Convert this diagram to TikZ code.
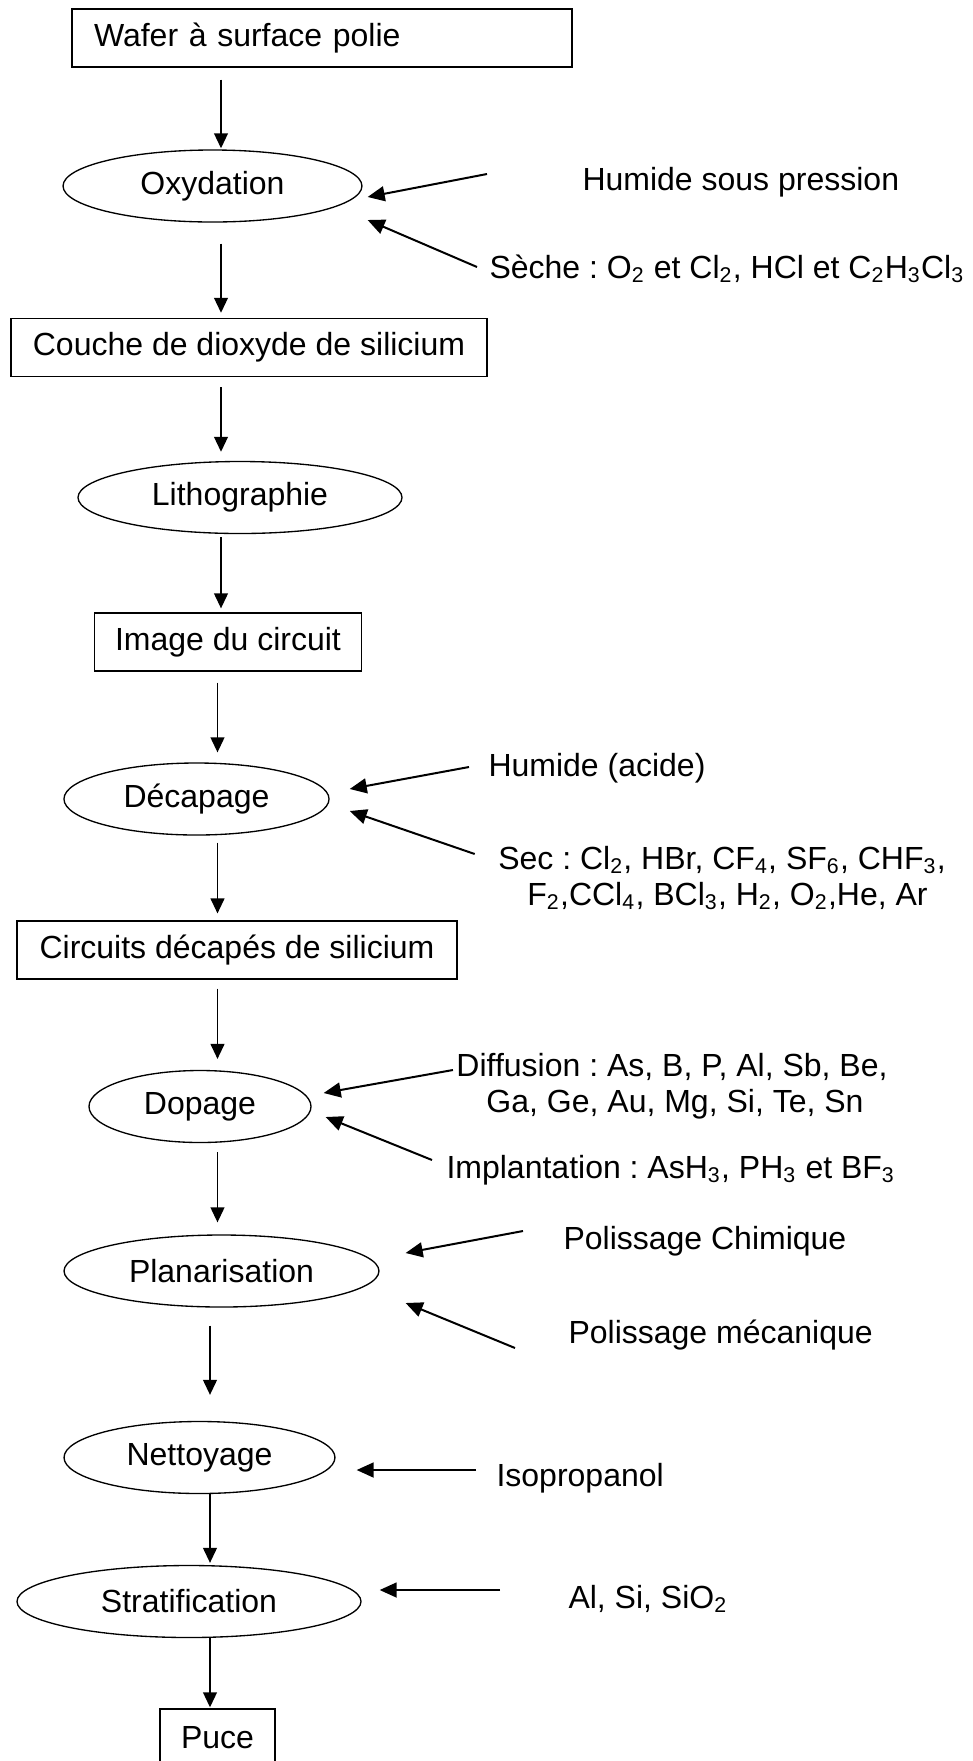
\documentclass[tikz,border=0pt]{standalone}
\usepackage{fontspec}
\setmainfont{Liberation Sans}
\frenchspacing
\usetikzlibrary{arrows.meta,shapes.geometric,positioning}

\begin{document}
\begin{tikzpicture}
[
x=0.375pt, y=-0.375pt,
every node/.style={font=\fontsize{12pt}{14pt}\selectfont, inner sep=0pt},
procbox/.style={draw, rectangle, line width=0.5pt, minimum height=21.75pt},
stage/.style={draw, ellipse, line width=0.5pt, minimum height=27pt},
note/.style={anchor=base west},
flow/.style={-{Triangle[length=5.6pt,width=5.2pt]}, line width=0.5pt},
feed/.style={-{Triangle[length=6.4pt,width=5.6pt]}, line width=0.75pt},
]
\useasboundingbox (0,0) rectangle (973,1761);

% Nodes
\node[procbox, minimum width=187.5pt, text width=171pt, align=left] (wafer) at (322,38) {Wafer à surface polie};
\node[stage, minimum width=112.1pt] (oxy) at (212.5,186) {Oxydation};
\node[procbox, minimum width=178.5pt] (couche) at (249,347.5) {Couche de dioxyde de silicium};
\node[stage, minimum width=121.5pt] (litho) at (240,497.5) {Lithographie};
\node[procbox, minimum width=100.1pt] (image) at (228,642) {Image du circuit};
\node[stage, minimum width=99.4pt] (decap) at (196.5,799) {Décapage};
\node[procbox, minimum width=165pt] (circ) at (237,950) {Circuits décapés de silicium};
\node[stage, minimum width=83.25pt] (dop) at (200,1106.5) {Dopage};
\node[stage, minimum width=118.1pt] (plan) at (221.5,1271) {Planarisation};
\node[stage, minimum width=101.6pt] (nett) at (199.5,1457.5) {Nettoyage};
\node[stage, minimum width=129pt] (strat) at (189,1601.5) {Stratification};
\node[procbox, minimum width=43.1pt] (puce) at (217.5,1738) {Puce};

% Inputs
\node[note] (hum1) at (582,190) {Humide sous pression};
\node[note] (seche) at (489,278) {Sèche : O\textsubscript{2} et Cl\textsubscript{2}, HCl et C\textsubscript{2}H\textsubscript{3}Cl\textsubscript{3}};
\node[note] (hum2) at (488,776) {Humide (acide)};
\node[anchor=base] (sec1) at (722,869) {Sec : Cl\textsubscript{2}, HBr, CF\textsubscript{4}, SF\textsubscript{6}, CHF\textsubscript{3},};
\node[anchor=base] (sec2) at (727.5,905) {F\textsubscript{2},CCl\textsubscript{4}, BCl\textsubscript{3}, H\textsubscript{2}, O\textsubscript{2},He, Ar};
\node[anchor=base] (diff1) at (672,1076) {Diffusion : As, B, P, Al, Sb, Be,};
\node[anchor=base] (diff2) at (675,1112) {Ga, Ge, Au, Mg, Si, Te, Sn};
\node[note] (impl) at (446,1178) {Implantation : AsH\textsubscript{3}, PH\textsubscript{3} et BF\textsubscript{3}};
\node[note] (polchim) at (563,1249.5) {Polissage Chimique};
\node[note] (polmec) at (568,1343.5) {Polissage mécanique};
\node[note] (iso) at (496,1486) {Isopropanol};
\node[note] (alsi) at (568,1608) {Al, Si, SiO\textsubscript{2}};

% Edges
\coordinate (colA) at (221,0);
\coordinate (colB) at (217.5,0);
\coordinate (colC) at (210,0);
\draw[flow, shorten <=4.5pt, shorten >=0.4pt] (wafer.south -| colA) -- (oxy.north -| colA);
\draw[flow, shorten <=7.9pt, shorten >=1.9pt] (oxy.south -| colA) -- (couche.north -| colA);
\draw[flow, shorten <=3.75pt, shorten >=3.4pt] (couche.south -| colA) -- (litho.north -| colA);
\draw[flow, shorten <=1.1pt, shorten >=1.5pt] (litho.south -| colA) -- (image.north -| colA);
\draw[flow, shorten <=4.1pt, shorten >=3.75pt] (image.south -| colB) -- (decap.north -| colB);
\draw[flow, shorten <=2.6pt, shorten >=2.6pt] (decap.south -| colB) -- (circ.north -| colB);
\draw[flow, shorten <=3.4pt, shorten >=4.1pt] (circ.south -| colB) -- (dop.north -| colB);
\draw[flow, shorten <=3.4pt, shorten >=4.5pt] (dop.south -| colB) -- (plan.north -| colB);
\draw[flow, shorten <=6.75pt, shorten >=9.75pt] (plan.south -| colC) -- (nett.north -| colC);
\draw[flow, shorten >=0.75pt] (nett.south -| colC) -- (strat.north -| colC);
\draw[flow, shorten >=0.4pt] (strat.south -| colC) -- (puce.north -| colC);

\draw[feed] ([shift={(-95,-16)}]hum1.base west) -- ([shift={(5,11)}]oxy.east);
\draw[feed] ([shift={(-12,-11)}]seche.base west) -- ([shift={(5,34)}]oxy.east);
\draw[feed] ([shift={(-19,-9)}]hum2.base west) -- ([shift={(20,-10)}]decap.east);
\draw[feed] ([shift={(-23,-15)}]sec1.base west) -- ([shift={(20,12)}]decap.east);
\draw[feed] ([shift={(-3,-6)}]diff1.base west) -- ([shift={(12,-13.5)}]dop.east);
\draw[feed] ([shift={(-14,-18)}]impl.base west) -- ([shift={(14,10.5)}]dop.east);
\draw[feed] ([shift={(-40,-18.5)}]polchim.base west) -- ([shift={(26,-18)}]plan.east);
\draw[feed] ([shift={(-53,4.5)}]polmec.base west) -- ([shift={(26,32)}]plan.east);
\draw[feed] ([shift={(-20,-16)}]iso.base west) -- ([shift={(21,12.5)}]nett.east);
\draw[feed] ([shift={(-68,-18)}]alsi.base west) -- ([shift={(18,-11.5)}]strat.east);

\end{tikzpicture}
\end{document}
